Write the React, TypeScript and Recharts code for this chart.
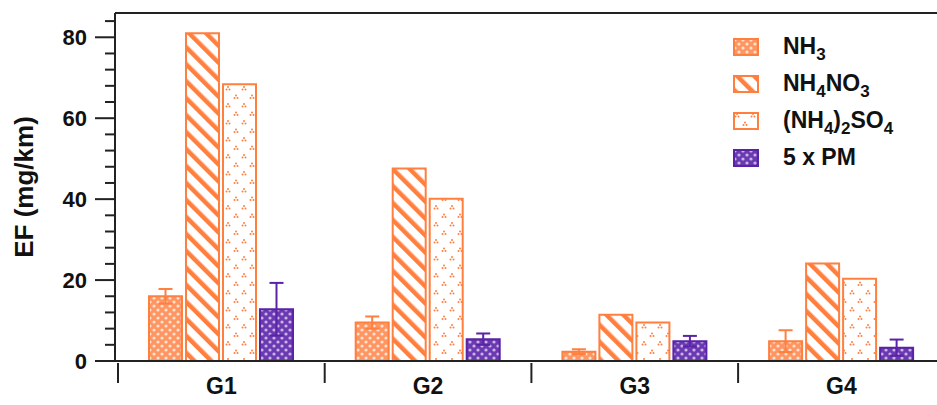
import React from 'react';
import { BarChart, Bar, XAxis, YAxis, ErrorBar, ReferenceLine } from 'recharts';

// emission factors per vehicle group (mg/km), with standard deviations
const groups = ['G1', 'G2', 'G3', 'G4'];
const nh3 = [16.0, 9.5, 2.3, 4.9];
const nh3Err = [1.8, 1.5, 0.6, 2.7];
const nh4no3 = [81.0, 47.6, 11.4, 24.1];
const nh42so4 = [68.4, 40.1, 9.5, 20.3];
const pm5 = [12.8, 5.4, 4.9, 3.3];
const pm5Err = [6.5, 1.4, 1.3, 2.0];
const yTicks = [0, 4, 8, 12, 16, 20, 24, 28, 32, 36, 40, 44, 48, 52, 56, 60, 64, 68, 72, 76, 80, 84];

const data = groups.map((g, i) => ({
  group: g,
  nh3: nh3[i],
  nh3Err: nh3Err[i],
  nh4no3: nh4no3[i],
  nh42so4: nh42so4[i],
  pm5: pm5[i],
  pm5Err: pm5Err[i],
}));

const ORANGE = '#FF7F3F';
const PURPLE = '#5A22A6';
const FONT = 'Liberation Sans, Arial, sans-serif';

// plot geometry
const PLOT_LEFT = 115;
const PAD_LEFT = 3;
const BAND = 206.7;
const PLOT_TOP = 13;
const PLOT_BOTTOM = 361;
const CHART_W = 952;

function Patterns() {
  return (
    <defs>
      <pattern id="pNH3" width="8" height="8" patternUnits="userSpaceOnUse">
        <rect width="8" height="8" fill="#FF9662" />
        <circle cx="2" cy="2" r="1.6" fill="#FFE2D2" />
        <circle cx="6" cy="6" r="1.6" fill="#FFE2D2" />
      </pattern>
      <pattern id="pNO3" width="12" height="12" patternUnits="userSpaceOnUse" patternTransform="rotate(-45)">
        <rect width="12" height="12" fill="#fff" />
        <rect x="0" y="0" width="4.5" height="12" fill={ORANGE} />
      </pattern>
      <pattern id="pSO4" width="16" height="17" patternUnits="userSpaceOnUse">
        <rect width="16" height="17" fill="#fff" />
        <g fill={ORANGE}>
          <circle cx="4" cy="2" r="1" />
          <circle cx="2.5" cy="4.5" r="1" />
          <circle cx="5.5" cy="4.5" r="1" />
          <circle cx="12" cy="10.5" r="1" />
          <circle cx="10.5" cy="13" r="1" />
          <circle cx="13.5" cy="13" r="1" />
        </g>
      </pattern>
      <pattern id="pPM" width="8" height="8" patternUnits="userSpaceOnUse">
        <rect width="8" height="8" fill="#6B3AB2" />
        <circle cx="2" cy="2" r="1.6" fill="#C9B4E6" />
        <circle cx="6" cy="6" r="1.6" fill="#C9B4E6" />
      </pattern>
    </defs>
  );
}

function YTick(props: any) {
  const { x, y, payload } = props;
  const major = payload.value % 20 === 0;
  return (
    <g>
      <line x1={x - (major ? 20 : 10)} x2={x} y1={y} y2={y} stroke="#222" strokeWidth={2} />
      {major && (
        <text x={x - 28} y={y} dy={8} textAnchor="end" fontSize={22} fontWeight="bold" fontFamily={FONT} fill="#111">
          {payload.value}
        </text>
      )}
    </g>
  );
}

function XTick(props: any) {
  const { x, y, payload, index } = props;
  const left = x - BAND / 2;
  return (
    <g>
      <line x1={left} x2={left} y1={y} y2={y + 20} stroke="#222" strokeWidth={2} />
      {index === groups.length - 1 && (
        <line x1={left + BAND} x2={left + BAND} y1={y} y2={y + 20} stroke="#222" strokeWidth={2} />
      )}
      <text x={x} y={y} dy={31} textAnchor="middle" fontSize={23} fontWeight="bold" fontFamily={FONT} fill="#111">
        {payload.value}
      </text>
    </g>
  );
}

const legendItems = [
  { fill: 'url(#pNH3)', stroke: ORANGE, label: <>NH<sub>3</sub></> },
  { fill: 'url(#pNO3)', stroke: ORANGE, label: <>NH<sub>4</sub>NO<sub>3</sub></> },
  { fill: 'url(#pSO4)', stroke: ORANGE, label: <>(NH<sub>4</sub>)<sub>2</sub>SO<sub>4</sub></> },
  { fill: 'url(#pPM)', stroke: PURPLE, label: <>5 x PM</> },
];

function LegendBox() {
  const subStyle = `.lg sub{font-size:17px;vertical-align:-6px;line-height:0}`;
  return (
    <div
      className="lg"
      style={{ position: 'absolute', left: 733, top: 28, fontFamily: FONT, fontWeight: 'bold', fontSize: 23, color: '#111' }}
    >
      <style>{subStyle}</style>
      {legendItems.map((it, i) => (
        <div key={i} style={{ display: 'flex', alignItems: 'center', height: 37 }}>
          <svg width={26} height={18} style={{ marginRight: 24 }}>
            <rect x={1} y={1} width={24} height={16} fill={it.fill} stroke={it.stroke} strokeWidth={2} />
          </svg>
          <span>{it.label}</span>
        </div>
      ))}
    </div>
  );
}

export default function App() {
  return (
    <div style={{ position: 'absolute', left: 0, top: 0, width: 937, height: 405, overflow: 'hidden', background: '#fff' }}>
      <BarChart
        width={CHART_W}
        height={405}
        data={data}
        margin={{ top: PLOT_TOP, right: CHART_W - (PLOT_LEFT + PAD_LEFT + BAND * 4), bottom: 0, left: 0 }}
        barSize={33}
        barGap={4}
      >
        <Patterns />
        <XAxis
          dataKey="group"
          height={405 - PLOT_BOTTOM}
          padding={{ left: PAD_LEFT, right: 0 }}
          axisLine={{ stroke: '#222', strokeWidth: 2 }}
          tickLine={false}
          tickSize={0}
          tick={<XTick />}
          interval={0}
        />
        <YAxis
          width={PLOT_LEFT}
          domain={[0, 86]}
          ticks={yTicks}
          interval={0}
          allowDataOverflow
          axisLine={{ stroke: '#222', strokeWidth: 2 }}
          tickLine={false}
          tickSize={0}
          tickMargin={0}
          tick={<YTick />}
          label={{
            value: 'EF (mg/km)',
            angle: -90,
            position: 'insideLeft',
            offset: 0,
            dx: 24,
            style: { fontSize: 26, fontWeight: 'bold', fontFamily: FONT, fill: '#111', textAnchor: 'middle' },
          }}
        />
        <ReferenceLine y={86} stroke="#222" strokeWidth={2} />
        <Bar dataKey="nh3" fill="url(#pNH3)" stroke={ORANGE} strokeWidth={2} isAnimationActive={false}>
          <ErrorBar dataKey="nh3Err" width={7} stroke={ORANGE} strokeWidth={2} />
        </Bar>
        <Bar dataKey="nh4no3" fill="url(#pNO3)" stroke={ORANGE} strokeWidth={2} isAnimationActive={false} />
        <Bar dataKey="nh42so4" fill="url(#pSO4)" stroke={ORANGE} strokeWidth={2} isAnimationActive={false} />
        <Bar dataKey="pm5" fill="url(#pPM)" stroke={PURPLE} strokeWidth={2} isAnimationActive={false}>
          <ErrorBar dataKey="pm5Err" width={7} stroke={PURPLE} strokeWidth={2} />
        </Bar>
      </BarChart>
      <LegendBox />
    </div>
  );
}
